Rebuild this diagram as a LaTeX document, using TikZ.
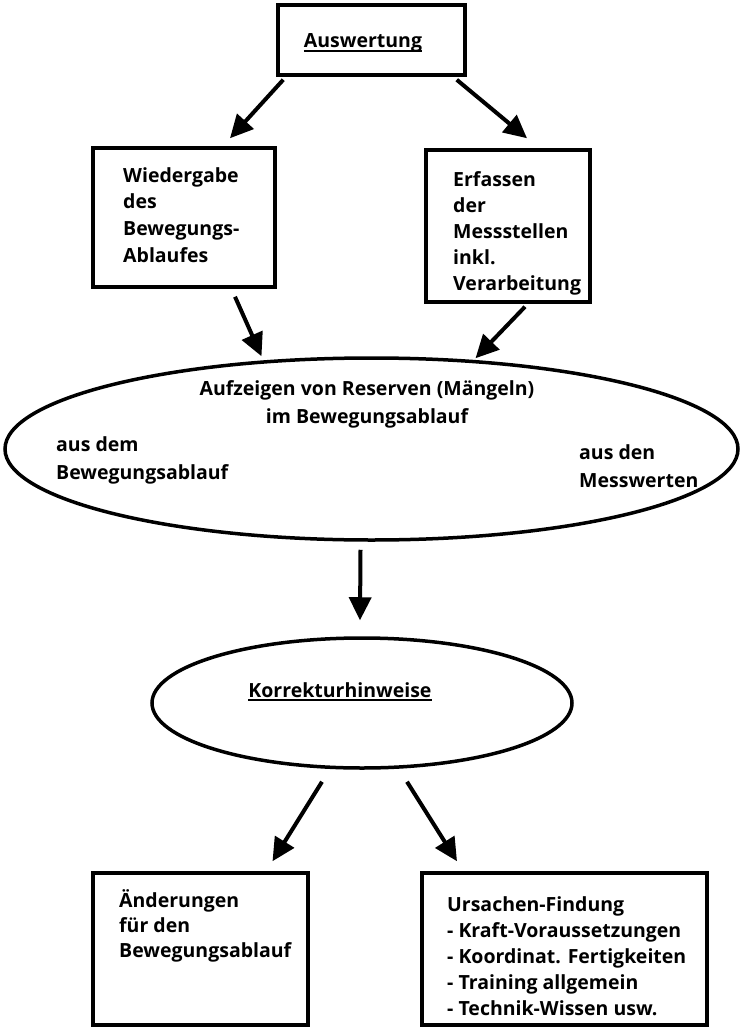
\documentclass[tikz,border=0pt]{standalone}
\usepackage{fontspec}
\setmainfont{Open Sans}
\usetikzlibrary{shapes.geometric,arrows.meta,calc}

% underline sitting just below the baseline
\newcommand\lineunder[1]{\setbox0\hbox{#1}\rlap{\rule[-4pt]{\wd0}{1.8pt}}\box0}

\begin{document}
\begin{tikzpicture}[x=1pt,y=-1pt,
  box/.style={draw, line width=3.5pt, inner sep=0pt},
  ell/.style={draw, ellipse, line width=3.5pt, inner sep=0pt},
  txt/.style={inner sep=0pt, align=left, font=\fontsize{19.5}{26}\selectfont\bfseries},
  ctxt/.style={inner sep=0pt, align=center, font=\fontsize{19.5}{28}\selectfont\bfseries},
  arr/.style={line width=4pt, -{Triangle[length=23pt,width=22pt]}}]

\useasboundingbox (0,0) rectangle (741,1027);

% boxes
\node[box, minimum width=187pt, minimum height=70pt]  (aw) at (371.5,40) {};
\node[box, minimum width=182pt, minimum height=139pt] (wg) at (184,217.5) {};
\node[box, minimum width=164pt, minimum height=152pt] (er) at (508,226) {};
\node[box, minimum width=215pt, minimum height=152pt] (bl) at (200.5,949) {};
\node[box, minimum width=285pt, minimum height=152pt] (br) at (564.5,949) {};

% ellipses
\node[ell, minimum width=733pt, minimum height=182pt] (e1) at (371.5,449) {};
\node[ell, minimum width=420pt, minimum height=130pt] (e2) at (362,703) {};

% texts
\node[ctxt, anchor=base] (taw) at (363,48) {\lineunder{Auswertung}};
\node[txt, anchor=west, font=\fontsize{19.5}{26.7}\selectfont\bfseries] (twg) at (123,215)
  {Wiedergabe\\des\\Bewegungs-\\Ablaufes};
\node[txt, anchor=west] (ter) at (453,233.5)
  {Erfassen\\der\\Messstellen\\inkl.\\Verarbeitung};
\node[ctxt] (te1) at (367,404) {Aufzeigen von Reserven (Mängeln)\\im Bewegungsablauf};
\node[txt, anchor=west, font=\fontsize{19.5}{28}\selectfont\bfseries] (te1l) at (56,460) {aus dem\\Bewegungsablauf};
\node[txt, anchor=west, font=\fontsize{19.5}{28}\selectfont\bfseries] (te1r) at (579,466) {aus den\\Messwerten};
\node[ctxt, anchor=base] (te2) at (340,697) {\lineunder{Korrekturhinweise}};
\node[txt, anchor=west, font=\fontsize{19.5}{25}\selectfont\bfseries] (tbl) at (119,926)
  {Änderungen\\für den\\Bewegungsablauf};
\node[txt, anchor=west] (tbr) at (447,956.5)
  {Ursachen-Findung\\- Kraft-Voraussetzungen\\- Koordinat. Fertigkeiten\\- Training allgemein\\- Technik-Wissen usw.};

% connectors
\draw[arr] ($(aw.south west)+(7,3)$) -- ($(wg.north)+(46,-8)$);
\draw[arr] ($(aw.south east)+(-10,3)$) -- ($(er.north)+(19,-10)$);
\draw[arr] ($(wg.south)+(51,8)$) -- ($(e1.north)+(-110,0)$);
\draw[arr] ($(er.south)+(17,3)$) -- ($(e1.north)+(104,2)$);
\draw[arr] ($(e1.south)+(-11,8)$) -- ($(e2.north)+(-2,-16)$);
\draw[arr] ($(e2.south)+(-40,12)$) -- ($(bl.north)+(72,-10)$);
\draw[arr] ($(e2.south)+(45,12)$) -- ($(br.north)+(-107.5,-10)$);
\end{tikzpicture}
\end{document}
